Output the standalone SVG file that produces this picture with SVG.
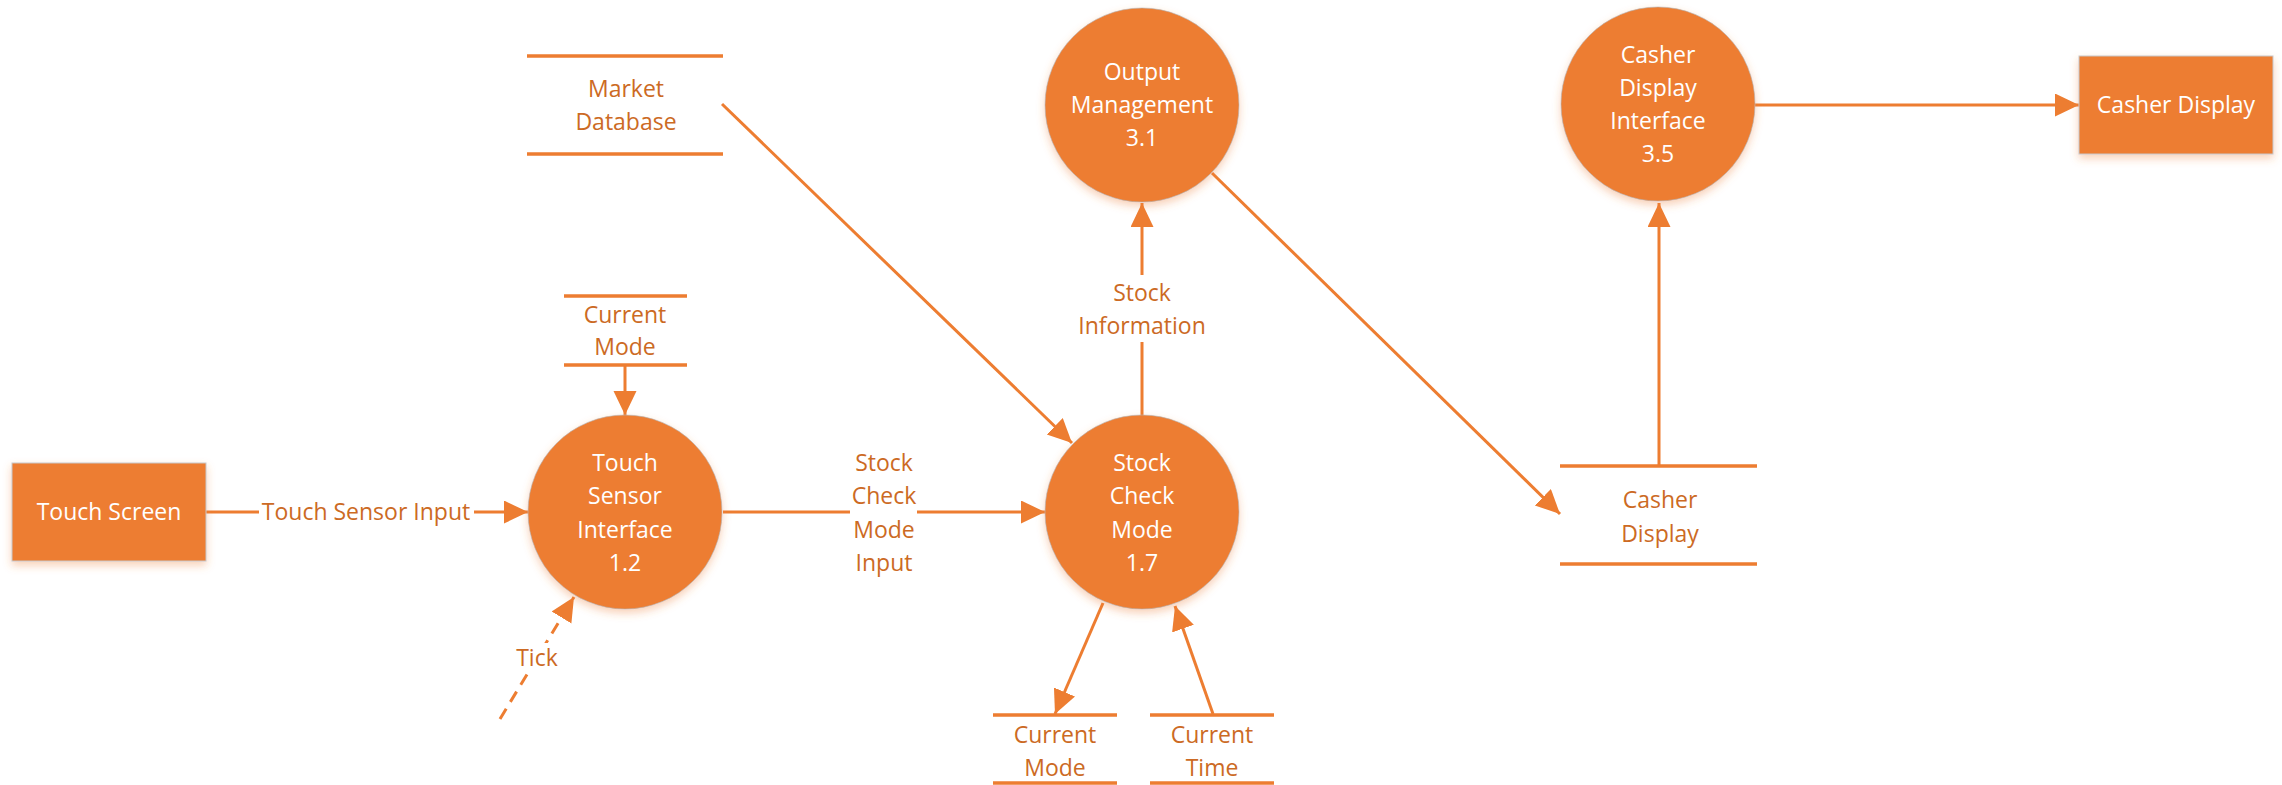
<svg xmlns="http://www.w3.org/2000/svg" width="2282" height="785" viewBox="0 0 2282 785">
<defs>
<style>
.proc{fill:#ED7D31;stroke:#B4B4B4;stroke-opacity:0.6;stroke-width:1;filter:url(#sh)}
.ent{fill:#ED7D31;stroke:#C8C8C8;stroke-width:1;filter:url(#sh)}
.store{stroke:#ED7D31;stroke-width:3.5;fill:none}
.flow{stroke:#ED7D31;stroke-width:3;fill:none}
.dash{stroke-dasharray:12 8}
text{font-family:"Open Sans","Noto Sans","DejaVu Sans",sans-serif;font-size:23px;text-anchor:middle}
.w{fill:#FFFFFF}
.o{fill:#CC6A24}
.bg{fill:#FFFFFF}
</style>
<filter id="sh" x="-20%" y="-20%" width="140%" height="150%">
<feDropShadow dx="0" dy="4" stdDeviation="4" flood-color="#ED7D31" flood-opacity="0.35"/>
</filter>
<marker id="ah" markerUnits="userSpaceOnUse" markerWidth="26" markerHeight="24" refX="24" refY="11.5" orient="auto">
<path d="M0,0 L24,11.5 L0,23 Z" fill="#ED7D31"/>
</marker>
</defs>

<g id="connectors">
<line class="flow" x1="206" y1="512" x2="528" y2="512" marker-end="url(#ah)"/>
<line class="flow" x1="625" y1="366" x2="625" y2="415" marker-end="url(#ah)"/>
<line class="flow dash" x1="500" y1="719" x2="574" y2="597" marker-end="url(#ah)"/>
<line class="flow" x1="723" y1="512" x2="1045" y2="512" marker-end="url(#ah)"/>
<line class="flow" x1="722" y1="104" x2="1072" y2="443" marker-end="url(#ah)"/>
<line class="flow" x1="1142" y1="415" x2="1142" y2="203" marker-end="url(#ah)"/>
<line class="flow" x1="1212" y1="173" x2="1560" y2="514" marker-end="url(#ah)"/>
<line class="flow" x1="1659" y1="466" x2="1659" y2="203" marker-end="url(#ah)"/>
<line class="flow" x1="1755" y1="105" x2="2079" y2="105" marker-end="url(#ah)"/>
<line class="flow" x1="1103" y1="603" x2="1055" y2="714" marker-end="url(#ah)"/>
<line class="flow" x1="1213" y1="714" x2="1175" y2="606" marker-end="url(#ah)"/>
<rect class="bg" x="259" y="496" width="215" height="32"/>
<text class="o" x="366" y="520">Touch Sensor Input</text>
<rect class="bg" x="522" y="643" width="32" height="30"/>
<text class="o" x="537" y="666">Tick</text>
<rect class="bg" x="850" y="446" width="67" height="134"/>
<text class="o" x="884" y="471">Stock</text>
<text class="o" x="884" y="504">Check</text>
<text class="o" x="884" y="538">Mode</text>
<text class="o" x="884" y="571">Input</text>
<rect class="bg" x="1075" y="275" width="134" height="67"/>
<text class="o" x="1142" y="301">Stock</text>
<text class="o" x="1142" y="334">Information</text>
</g>

<g id="touch-screen">
<rect class="ent" x="12" y="463" width="194" height="98"/>
<text class="w" x="109" y="520">Touch Screen</text>
</g>

<g id="touch-sensor-interface">
<circle class="proc" cx="625" cy="512" r="97"/>
<text class="w" x="625" y="471">Touch</text>
<text class="w" x="625" y="504">Sensor</text>
<text class="w" x="625" y="538">Interface</text>
<text class="w" x="625" y="571">1.2</text>
</g>

<g id="current-mode-top">
<line class="store" x1="564" y1="296" x2="687" y2="296"/>
<line class="store" x1="564" y1="365" x2="687" y2="365"/>
<text class="o" x="625" y="323">Current</text>
<text class="o" x="625" y="355">Mode</text>
</g>

<g id="market-database">
<line class="store" x1="527" y1="56" x2="723" y2="56"/>
<line class="store" x1="527" y1="154" x2="723" y2="154"/>
<text class="o" x="626" y="97">Market</text>
<text class="o" x="626" y="130">Database</text>
</g>

<g id="stock-check-mode">
<circle class="proc" cx="1142" cy="512" r="97"/>
<text class="w" x="1142" y="471">Stock</text>
<text class="w" x="1142" y="504">Check</text>
<text class="w" x="1142" y="538">Mode</text>
<text class="w" x="1142" y="571">1.7</text>
</g>

<g id="output-management">
<circle class="proc" cx="1142" cy="105" r="97"/>
<text class="w" x="1142" y="80">Output</text>
<text class="w" x="1142" y="113">Management</text>
<text class="w" x="1142" y="146">3.1</text>
</g>

<g id="current-mode-bottom">
<line class="store" x1="993" y1="715" x2="1117" y2="715"/>
<line class="store" x1="993" y1="783" x2="1117" y2="783"/>
<text class="o" x="1055" y="743">Current</text>
<text class="o" x="1055" y="776">Mode</text>
</g>

<g id="current-time">
<line class="store" x1="1150" y1="715" x2="1274" y2="715"/>
<line class="store" x1="1150" y1="783" x2="1274" y2="783"/>
<text class="o" x="1212" y="743">Current</text>
<text class="o" x="1212" y="776">Time</text>
</g>

<g id="casher-display-store">
<line class="store" x1="1560" y1="466" x2="1757" y2="466"/>
<line class="store" x1="1560" y1="564" x2="1757" y2="564"/>
<text class="o" x="1660" y="508">Casher</text>
<text class="o" x="1660" y="542">Display</text>
</g>

<g id="casher-display-interface">
<circle class="proc" cx="1658" cy="104" r="97"/>
<text class="w" x="1658" y="63">Casher</text>
<text class="w" x="1658" y="96">Display</text>
<text class="w" x="1658" y="129">Interface</text>
<text class="w" x="1658" y="162">3.5</text>
</g>

<g id="casher-display">
<rect class="ent" x="2079" y="56" width="194" height="98"/>
<text class="w" x="2176" y="113">Casher Display</text>
</g>
</svg>
